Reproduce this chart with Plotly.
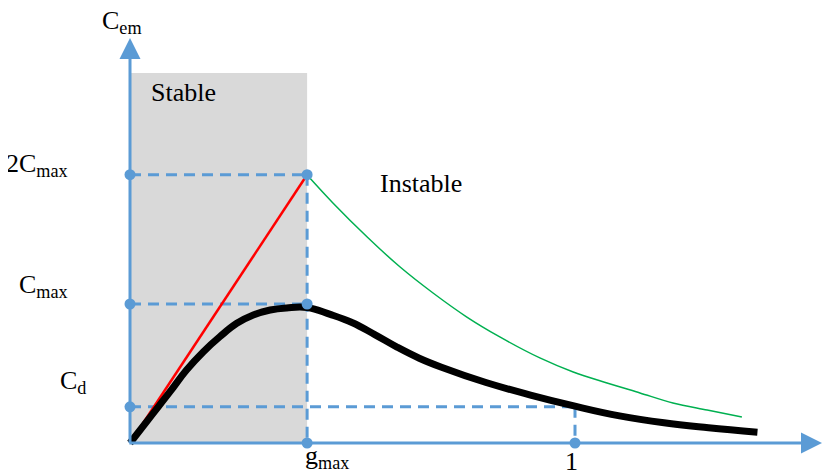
import plotly.graph_objects as go

# ---------------- data ----------------
# slip g (g_max ~ 0.398, rated point g = 1) and torque C (C_max = 1)
g_max = 0.398
C_max = 1.0
C_2max = 1.93
C_d = 0.26
g_rated = 1.0

torque_g = [0, 0.045, 0.090, 0.127, 0.165, 0.202, 0.240, 0.277, 0.315, 0.352, 0.398,
            0.45, 0.50, 0.55, 0.60, 0.65, 0.70, 0.80, 0.90, 1.00, 1.10, 1.20, 1.30, 1.41]
torque_C = [0, 0.185, 0.369, 0.525, 0.657, 0.765, 0.861, 0.921, 0.957, 0.972, 0.975,
            0.925, 0.865, 0.78, 0.69, 0.61, 0.545, 0.435, 0.345, 0.265, 0.195, 0.145,
            0.11, 0.078]

limit_g = [0.398, 0.456, 0.533, 0.607, 0.681, 0.757, 0.831, 0.921, 0.996, 1.072,
           1.146, 1.220, 1.297, 1.375]
limit_C = [1.928, 1.727, 1.482, 1.266, 1.079, 0.906, 0.763, 0.612, 0.511, 0.432,
           0.360, 0.288, 0.237, 0.187]

tangent_g = [0, g_max]
tangent_C = [0, C_2max]

y_tick_values = [C_2max, C_max, C_d]
y_tick_labels = ["2C<sub>max</sub>", "C<sub>max</sub>", "C<sub>d</sub>"]
x_tick_values = [g_max, g_rated]
x_tick_labels = ["g<sub>max</sub>", "1"]
axis_titles = ["C<sub>em</sub>", "g"]
zone_labels = ["Stable", "Instable"]

# ---------------- styles ----------------
BLUE = "#5b9bd5"
FONT = "Liberation Serif"
X_RANGE = [-0.27416, 1.57528]
Y_RANGE = [-0.20144, 3.12950]
X_AXIS_END = 1.555
Y_AXIS_END = 2.914
STABLE_TOP = 2.662

fig = go.Figure()

# stable zone
fig.add_shape(type="rect", x0=0, x1=g_max, y0=0, y1=STABLE_TOP,
              fillcolor="#d9d9d9", line_width=0, layer="below")

# dashed guide lines
dash_style = dict(color=BLUE, width=3, dash="11px,7px")
guides = [
    ([0, g_max], [C_2max, C_2max]),
    ([0, g_max], [C_max, C_max]),
    ([0, g_rated], [C_d, C_d]),
    ([g_max, g_max], [C_2max, 0]),
    ([g_rated, g_rated], [C_d, 0]),
]
for gx, gy in guides:
    fig.add_trace(go.Scatter(x=gx, y=gy, mode="lines", line=dash_style,
                             hoverinfo="skip", showlegend=False))

# axes (lines with arrowheads)
fig.add_annotation(x=X_AXIS_END, y=0, ax=-0.005, ay=0, xref="x", yref="y",
                   axref="x", ayref="y", text="", showarrow=True,
                   arrowhead=2, arrowsize=1.4, arrowwidth=3, arrowcolor=BLUE)
fig.add_annotation(x=0, y=Y_AXIS_END, ax=0, ay=-0.01, xref="x", yref="y",
                   axref="x", ayref="y", text="", showarrow=True,
                   arrowhead=2, arrowsize=1.4, arrowwidth=3, arrowcolor=BLUE)

# curves
fig.add_trace(go.Scatter(x=limit_g, y=limit_C, mode="lines", line_shape="spline",
                         line=dict(color="#00b050", width=1.5), showlegend=False))
fig.add_trace(go.Scatter(x=tangent_g, y=tangent_C, mode="lines",
                         line=dict(color="#ff0000", width=2.5), showlegend=False))
fig.add_trace(go.Scatter(x=torque_g, y=torque_C, mode="lines", line_shape="spline",
                         line=dict(color="black", width=7, smoothing=1.2),
                         showlegend=False))

# tick points
pts_x = [0] * len(y_tick_values) + [g_max, g_max] + list(x_tick_values)
pts_y = y_tick_values + [C_2max, C_max] + [0] * len(x_tick_values)
fig.add_trace(go.Scatter(x=pts_x, y=pts_y, mode="markers",
                         marker=dict(color=BLUE, size=11), showlegend=False))

txt = dict(family=FONT, size=26, color="black")

# y tick labels
y_label_pos = [(-0.135, 2.00), (-0.135, 1.13), (-0.094, 0.44)]
for lab, (xx, yy) in zip(y_tick_labels, y_label_pos):
    fig.add_annotation(x=xx, y=yy, text=lab, showarrow=False,
                       xanchor="right", yanchor="middle", font=txt)
# x tick labels
fig.add_annotation(x=g_max, y=-0.103, text=x_tick_labels[0], showarrow=False,
                   xanchor="left", yanchor="middle", font=txt, xshift=-4)
fig.add_annotation(x=g_rated, y=-0.13, text=x_tick_labels[1], showarrow=False,
                   xanchor="center", yanchor="middle", font=txt, xshift=-4)
# axis titles
fig.add_annotation(x=-0.018, y=3.03, text=axis_titles[0], showarrow=False,
                   xanchor="center", yanchor="middle", font=txt)
fig.add_annotation(x=1.553, y=-0.02, text=axis_titles[1], showarrow=False,
                   xanchor="left", yanchor="middle", font=txt)
# zone labels
fig.add_annotation(x=0.121, y=2.52, text=zone_labels[0], showarrow=False,
                   xanchor="center", yanchor="middle", font=txt)
fig.add_annotation(x=0.654, y=1.865, text=zone_labels[1], showarrow=False,
                   xanchor="center", yanchor="middle", font=txt)

fig.update_layout(
    width=823, height=463,
    margin=dict(l=0, r=0, t=0, b=0),
    plot_bgcolor="white", paper_bgcolor="white",
    xaxis=dict(range=X_RANGE, visible=False, fixedrange=True),
    yaxis=dict(range=Y_RANGE, visible=False, fixedrange=True),
)

fig.write_html("out.html")
